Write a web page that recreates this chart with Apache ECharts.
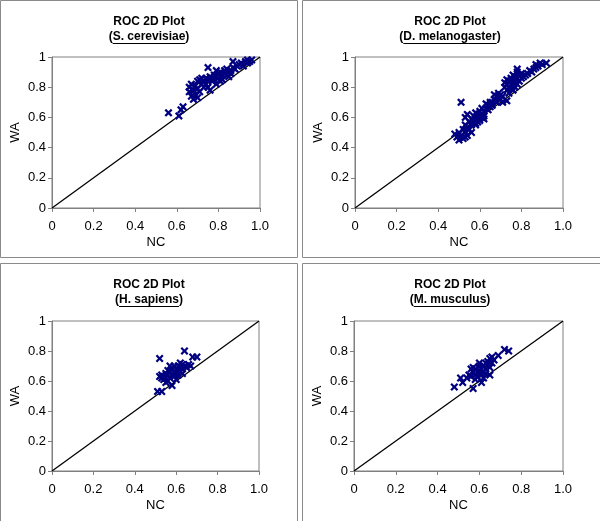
<!DOCTYPE html>
<html>
<head>
<meta charset="utf-8">
<script src="https://cdn.jsdelivr.net/npm/echarts@6/dist/echarts.min.js"></script>
<style>
    html, body { margin: 0; padding: 0; background: #fff; }
    #chart { width: 600px; height: 521px; }
</style>
</head>
<body>
<div id="chart"></div>
<script type="text/javascript">
    // NC / WA pairs
    var scerevisiae = [[0.56,0.63],[0.61,0.61],[0.62,0.65],[0.63,0.67],[0.66,0.80],[0.66,0.77],[0.67,0.74],[0.67,0.82],
        [0.68,0.72],[0.68,0.78],[0.69,0.75],[0.69,0.81],[0.70,0.73],[0.70,0.84],[0.70,0.79],[0.71,0.77],[0.71,0.85],
        [0.72,0.82],[0.72,0.86],[0.73,0.80],[0.73,0.84],[0.74,0.86],[0.74,0.82],[0.75,0.93],[0.75,0.80],[0.75,0.85],
        [0.76,0.78],[0.76,0.87],[0.77,0.84],[0.77,0.86],[0.78,0.88],[0.78,0.85],[0.79,0.82],[0.79,0.87],[0.80,0.86],
        [0.80,0.89],[0.81,0.87],[0.81,0.90],[0.82,0.88],[0.82,0.85],[0.83,0.89],[0.83,0.91],[0.84,0.88],[0.84,0.92],
        [0.85,0.90],[0.85,0.87],[0.86,0.91],[0.87,0.93],[0.87,0.97],[0.88,0.92],[0.89,0.94],[0.90,0.95],[0.91,0.96],
        [0.92,0.94],[0.93,0.97],[0.94,0.96],[0.94,0.98],[0.95,0.97],[0.96,0.98],[0.81,0.84],[0.79,0.91],[0.86,0.89]];
    var dmelanogaster = [[0.48,0.49],[0.49,0.47],[0.50,0.45],[0.50,0.50],[0.51,0.70],[0.51,0.48],[0.52,0.52],[0.52,0.46],
        [0.53,0.50],[0.53,0.55],[0.53,0.60],[0.54,0.48],[0.54,0.53],[0.54,0.62],[0.55,0.57],[0.55,0.52],[0.56,0.59],
        [0.56,0.55],[0.57,0.58],[0.57,0.61],[0.58,0.56],[0.58,0.60],[0.58,0.63],[0.59,0.57],[0.59,0.62],[0.60,0.60],
        [0.60,0.64],[0.60,0.58],[0.61,0.62],[0.61,0.66],[0.62,0.61],[0.62,0.64],[0.63,0.66],[0.63,0.69],[0.64,0.65],
        [0.64,0.68],[0.65,0.67],[0.66,0.68],[0.66,0.70],[0.67,0.72],[0.67,0.75],[0.68,0.70],[0.68,0.74],[0.69,0.73],
        [0.70,0.72],[0.70,0.75],[0.71,0.74],[0.73,0.71],[0.72,0.80],[0.72,0.83],[0.73,0.78],[0.73,0.82],[0.73,0.85],
        [0.74,0.80],[0.74,0.76],[0.74,0.84],[0.75,0.79],[0.75,0.82],[0.75,0.86],[0.76,0.78],[0.76,0.81],[0.76,0.85],
        [0.76,0.88],[0.77,0.80],[0.77,0.83],[0.77,0.87],[0.78,0.82],[0.78,0.86],[0.78,0.90],[0.78,0.92],[0.79,0.84],
        [0.79,0.88],[0.80,0.86],[0.80,0.89],[0.81,0.87],[0.82,0.88],[0.83,0.89],[0.84,0.91],[0.85,0.90],[0.86,0.92],
        [0.87,0.93],[0.87,0.95],[0.88,0.94],[0.89,0.96],[0.90,0.95],[0.92,0.96],[0.58,0.55],[0.62,0.59],[0.65,0.70],
        [0.69,0.76],[0.71,0.70],[0.56,0.50],[0.53,0.47],[0.59,0.59],[0.61,0.60]];
    var hsapiens = [[0.51,0.53],[0.53,0.53],[0.52,0.75],[0.64,0.80],[0.70,0.76],[0.68,0.76],[0.58,0.57],[0.52,0.63],
        [0.53,0.62],[0.53,0.64],[0.54,0.61],[0.54,0.63],[0.55,0.62],[0.55,0.65],[0.56,0.60],[0.56,0.64],[0.57,0.62],
        [0.57,0.66],[0.57,0.70],[0.58,0.64],[0.58,0.68],[0.59,0.63],[0.59,0.66],[0.59,0.70],[0.60,0.65],[0.60,0.68],
        [0.61,0.64],[0.61,0.67],[0.61,0.70],[0.62,0.66],[0.62,0.69],[0.63,0.65],[0.63,0.68],[0.63,0.71],[0.64,0.70],
        [0.65,0.69],[0.66,0.71],[0.67,0.70],[0.60,0.61],[0.56,0.67],[0.62,0.72],[0.55,0.59]];
    var mmusculus = [[0.48,0.56],[0.51,0.62],[0.52,0.59],[0.54,0.62],[0.55,0.64],[0.56,0.68],[0.56,0.63],[0.57,0.55],
        [0.57,0.66],[0.58,0.64],[0.58,0.68],[0.58,0.61],[0.59,0.66],[0.59,0.63],[0.60,0.67],[0.60,0.70],[0.60,0.65],
        [0.61,0.68],[0.61,0.64],[0.61,0.59],[0.62,0.66],[0.62,0.70],[0.63,0.72],[0.63,0.68],[0.63,0.65],[0.64,0.71],
        [0.64,0.73],[0.65,0.69],[0.65,0.64],[0.65,0.75],[0.66,0.72],[0.66,0.76],[0.67,0.74],[0.69,0.77],[0.72,0.81],
        [0.74,0.80],[0.57,0.69],[0.62,0.62],[0.60,0.72]];
    var diagonal = [[0, 0], [1, 1]];
    var species = ['S. cerevisiae', 'D. melanogaster', 'H. sapiens', 'M. musculus'];
    var panelData = [scerevisiae, dmelanogaster, hsapiens, mmusculus];

    // layout of the four boxes
    var boxes = [
        {x: 0.5, y: 0.5, w: 297, h: 257, left: 52, top: 57, gw: 208, gh: 151, cx: 149, ty: 21},
        {x: 302.5, y: 0.5, w: 300, h: 257, left: 355, top: 57, gw: 208, gh: 151, cx: 450, ty: 21},
        {x: 0.5, y: 263.5, w: 297, h: 270, left: 52, top: 321, gw: 207, gh: 150, cx: 149, ty: 284},
        {x: 302.5, y: 263.5, w: 300, h: 270, left: 354, top: 321, gw: 209, gh: 150, cx: 450, ty: 284}
    ];

    var FONT = '"Liberation Sans", Arial, sans-serif';
    var cross = 'path://M0,2L2,0L5,3L8,0L10,2L7,5L10,8L8,10L5,7L2,10L0,8L3,5Z';

    var ctx = document.createElement('canvas').getContext('2d');
    ctx.font = 'bold 12px ' + FONT;

    var grids = [], xAxes = [], yAxes = [], series = [], graphics = [];
    boxes.forEach(function (b, i) {
        graphics.push({type: 'rect', shape: {x: b.x, y: b.y, width: b.w, height: b.h},
            style: {fill: null, stroke: '#8a8a8a', lineWidth: 1}, silent: true});
        graphics.push({type: 'text', x: b.cx, y: b.ty + 1,
            style: {text: 'ROC 2D Plot', align: 'center', verticalAlign: 'middle', font: 'bold 12px ' + FONT, fill: '#000'}});
        var sub = '(' + species[i] + ')';
        graphics.push({type: 'text', x: b.cx, y: b.ty + 16,
            style: {text: sub, align: 'center', verticalAlign: 'middle', font: 'bold 12px ' + FONT, fill: '#000'}});
        var full = ctx.measureText(sub).width;
        var pw = ctx.measureText('(').width;
        var nameW = ctx.measureText(species[i]).width;
        graphics.push({type: 'rect', shape: {x: b.cx - full / 2 + pw, y: b.ty + 22, width: nameW, height: 1},
            style: {fill: '#000'}, silent: true});

        grids.push({left: b.left, top: b.top, width: b.gw, height: b.gh, show: true,
            borderColor: '#808080', borderWidth: 1, backgroundColor: '#fff'});
        xAxes.push({
            gridIndex: i, type: 'value', min: 0, max: 1, interval: 0.2,
            name: 'NC', nameLocation: 'middle', nameGap: 28,
            nameTextStyle: {color: '#000', fontSize: 13, fontFamily: FONT},
            axisLine: {lineStyle: {color: '#808080'}},
            axisTick: {show: true, inside: false, length: 4, lineStyle: {color: '#808080'}},
            axisLabel: {color: '#000', fontSize: 13, fontFamily: FONT, margin: 12,
                formatter: function (v) { return v === 0 ? '0' : v.toFixed(1); }},
            splitLine: {show: false}
        });
        yAxes.push({
            gridIndex: i, type: 'value', min: 0, max: 1, interval: 0.2,
            name: 'WA', nameLocation: 'middle', nameGap: 30,
            nameTextStyle: {color: '#000', fontSize: 13, fontFamily: FONT},
            axisLine: {lineStyle: {color: '#808080'}},
            axisTick: {show: true, inside: false, length: 4, lineStyle: {color: '#808080'}},
            axisLabel: {color: '#000', fontSize: 13, fontFamily: FONT, margin: 6,
                formatter: function (v) { return v === 0 ? '0' : v === 1 ? '1' : v.toFixed(1); }},
            splitLine: {show: false}
        });
        series.push({
            type: 'line', xAxisIndex: i, yAxisIndex: i, data: diagonal,
            symbol: 'none', lineStyle: {color: '#000', width: 1.3}, silent: true, z: 2
        });
        series.push({
            type: 'scatter', xAxisIndex: i, yAxisIndex: i, data: panelData[i],
            symbol: cross, symbolSize: 8, itemStyle: {color: '#000080', opacity: 1}, z: 3
        });
    });

    var myChart = echarts.init(document.getElementById('chart'), null, {renderer: 'canvas'});
    myChart.setOption({
        animation: false,
        backgroundColor: '#fff',
        grid: grids,
        xAxis: xAxes,
        yAxis: yAxes,
        series: series,
        graphic: graphics
    });
</script>
</body>
</html>
